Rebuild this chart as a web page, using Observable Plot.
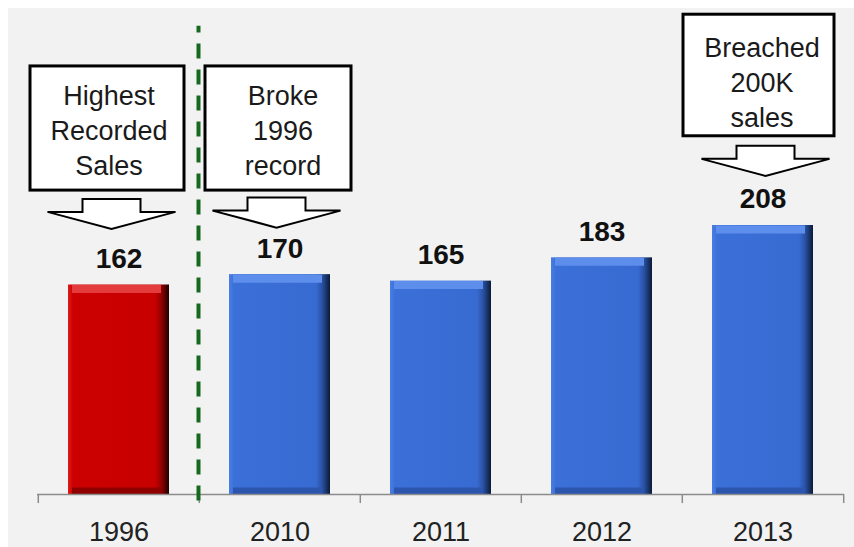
<!DOCTYPE html>
<html><head><meta charset="utf-8">
<script src="https://cdn.jsdelivr.net/npm/d3@7"></script>
<script src="https://cdn.jsdelivr.net/npm/@observablehq/plot@0.6"></script>
<style>
body{margin:0;background:#fff;}
#chart svg{display:block;background:linear-gradient(#f2f2f2,#f2f2f2) 8px 8px / 100% 100% no-repeat #fff !important;}
</style></head><body><div id="chart"></div>
<script>
// ---- data ----
const years = ["1996", "2010", "2011", "2012", "2013"];
const sales = [162, 170, 165, 183, 208];
const barKinds = ["record", "recent", "recent", "recent", "recent"];

const calloutYears = ["1996", "2010", "2013"];
const calloutTexts = ["Highest\nRecorded\nSales", "Broke\n1996\nrecord", "Breached\n200K\nsales"];
const calloutTop = [331, 331, 371];
const calloutBottom = [235, 235, 277];
const arrowTip = [205, 206, 246];

// ---- styling per callout (pixel offsets) ----
const calloutStyle = [
  {insetLeft: -38, insetRight: -15, textDx: -10, textDy: 0, arrowDx: -7},
  {insetLeft: -24, insetRight: -21, textDx: 3, textDy: 0, arrowDx: -3},
  {insetLeft: -29, insetRight: -21, textDx: -1, textDy: 5, arrowDx: 3}
];

const data = years.map((year, i) => ({year, sales: sales[i], kind: barKinds[i]}));
const callouts = calloutYears.map((year, i) => ({
  year, text: calloutTexts[i], top: calloutTop[i], bottom: calloutBottom[i], tip: arrowTip[i]
}));

const font = "'Liberation Sans', Arial, sans-serif";
const halfStep = 80.7;

const calloutMarks = callouts.flatMap((c, i) => {
  const s = calloutStyle[i];
  return [
    Plot.barY([c], {x: "year", y1: "bottom", y2: "top", fill: "white", stroke: "black",
      strokeWidth: 3, insetLeft: s.insetLeft, insetRight: s.insetRight}),
    Plot.text([c], {x: "year", y: d => (d.top + d.bottom) / 2, text: "text", dx: s.textDx, dy: s.textDy,
      fontSize: 27, lineHeight: 1.3, fill: "#1a1a1a"})
  ];
});

const chart = Plot.plot({
  width: 854, height: 547,
  marginTop: 8, marginBottom: 53, marginLeft: 37, marginRight: 10,
  style: {fontFamily: font, background: "transparent", overflow: "visible"},
  x: {domain: years, paddingInner: 0.37, paddingOuter: 0.185, axis: null},
  y: {domain: [0, 375.8], axis: null},
  marks: [
    // bars
    Plot.barY(data, {filter: d => d.kind === "record", x: "year", y: "sales", fill: "url(#gRed)"}),
    Plot.barY(data, {filter: d => d.kind !== "record", x: "year", y: "sales", fill: "url(#gBlue)"}),
    // bevel highlights
    Plot.tickY(data, {filter: d => d.kind === "record", x: "year", y: "sales", stroke: "#e43c3c", strokeWidth: 8, dy: 4, insetLeft: 4, insetRight: 8}),
    Plot.tickY(data, {filter: d => d.kind !== "record", x: "year", y: "sales", stroke: "#5e8eec", strokeWidth: 8, dy: 4, insetLeft: 4, insetRight: 8}),
    Plot.tickY(data, {filter: d => d.kind === "record", x: "year", y: 0, stroke: "#8e0000", strokeWidth: 7, dy: -3.5, insetLeft: 4, insetRight: 8}),
    Plot.tickY(data, {filter: d => d.kind !== "record", x: "year", y: 0, stroke: "#2c55ae", strokeWidth: 7, dy: -3.5, insetLeft: 4, insetRight: 8}),
    // axis line and boundary ticks
    Plot.ruleY([0], {stroke: "#8c8c8c", strokeWidth: 1.5}),
    Plot.ruleX(years, {x: d => d, y1: 0, y2: -7, dx: -halfStep, stroke: "#8c8c8c", strokeWidth: 1.5}),
    Plot.ruleX([years[years.length - 1]], {x: d => d, y1: 0, y2: -7, dx: halfStep, stroke: "#8c8c8c", strokeWidth: 1.5}),
    // divider
    Plot.ruleX([years[1]], {x: d => d, y1: -5, y2: 362, dx: -halfStep - 0.8, stroke: "#17681f", strokeWidth: 4, strokeDasharray: "15,11"}),
    // year labels
    Plot.text(years, {x: d => d, y: 0, text: d => d, dy: 38, fontSize: 27, fill: "#222"}),
    // value labels
    Plot.text(data, {x: "year", y: "sales", text: d => String(d.sales), dy: -26, fontSize: 28, fontWeight: "bold", fill: "#111"}),
    ...calloutMarks
  ]
});

// gradients for beveled bars
const defs = d3.create("svg:defs");
function grad(id, stops) {
  const g = defs.append("linearGradient").attr("id", id).attr("x1", 0).attr("x2", 1).attr("y1", 0).attr("y2", 0);
  stops.forEach(([o, c]) => g.append("stop").attr("offset", o).attr("stop-color", c));
}
grad("gBlue", [[0, "#4a7ee4"], [0.05, "#3b70d8"], [0.86, "#386bd2"], [0.92, "#2a52a6"], [0.97, "#16305f"], [1, "#0b1a38"]]);
grad("gRed", [[0, "#dc1a1a"], [0.05, "#cc0000"], [0.86, "#c80000"], [0.92, "#980000"], [0.97, "#4c0000"], [1, "#1e0000"]]);
chart.insertBefore(defs.node(), chart.firstChild);

// arrows pointing from callouts to bars
const xs = chart.scale("x"), ys = chart.scale("y");
const xApply = xs.apply ? xs.apply : (v => d3.scaleBand(xs.domain, xs.range).paddingInner(0.37).paddingOuter(0.185)(v));
const yApply = ys.apply ? ys.apply : (v => d3.scaleLinear(ys.domain, ys.range)(v));
const bw = xs.bandwidth;
const arrows = d3.select(chart).append("g").attr("fill", "white").attr("stroke", "black").attr("stroke-width", 2).attr("stroke-linejoin", "miter");
callouts.forEach((c, i) => {
  const cx = xApply(c.year) + bw / 2 + calloutStyle[i].arrowDx;
  const t = yApply(c.tip);
  const p = d3.path();
  p.moveTo(cx - 29, t - 30); p.lineTo(cx + 29, t - 30); p.lineTo(cx + 29, t - 17);
  p.lineTo(cx + 64, t - 17); p.lineTo(cx, t); p.lineTo(cx - 64, t - 17);
  p.lineTo(cx - 29, t - 17); p.closePath();
  arrows.append("path").attr("d", p.toString());
});

document.getElementById("chart").appendChild(chart);
</script></body></html>
